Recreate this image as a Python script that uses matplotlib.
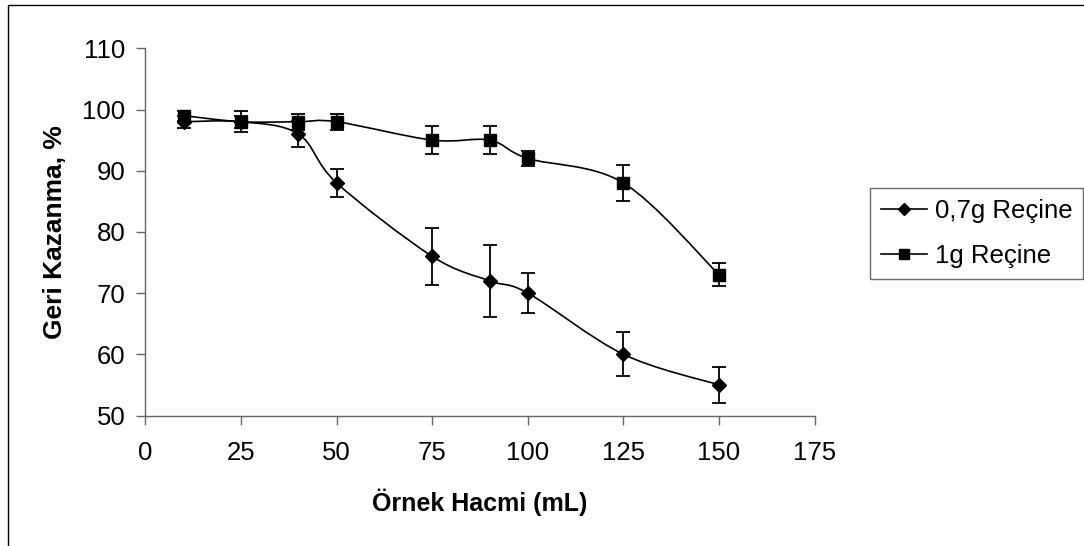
import numpy as np
import matplotlib
matplotlib.use("Agg")
import matplotlib.pyplot as plt
from matplotlib.path import Path
from matplotlib.patches import PathPatch, Rectangle
from matplotlib.lines import Line2D

plt.rcParams['font.family'] = ['Liberation Sans', 'DejaVu Sans']

# data
volume = [10, 25, 40, 50, 75, 90, 100, 125, 150]
recovery_07 = [98, 98, 96, 88, 76, 72, 70, 60, 55]
err_07 = [1.0, 1.0, 2.1, 2.3, 4.6, 5.9, 3.3, 3.6, 3.0]
recovery_1 = [99, 98, 98, 98, 95, 95, 92, 88, 73]
err_1 = [0.8, 1.7, 1.3, 1.3, 2.3, 2.3, 1.3, 3.0, 1.9]
labels = ["0,7g Reçine", "1g Reçine"]
xticks = [0, 25, 50, 75, 100, 125, 150, 175]
yticks = [50, 60, 70, 80, 90, 100, 110]


def smooth_path(x, y):
    # excel style smoothed line, cubic bezier through each point
    pts = np.column_stack([x, y]).astype(float)
    n = len(pts)
    verts = [pts[0]]
    codes = [Path.MOVETO]
    for i in range(n - 1):
        p0 = pts[max(i - 1, 0)]
        p1 = pts[i]
        p2 = pts[i + 1]
        p3 = pts[min(i + 2, n - 1)]
        verts += [p1 + (p2 - p0) / 6, p2 - (p3 - p1) / 6, p2]
        codes += [Path.CURVE4] * 3
    return Path(verts, codes)


fig = plt.figure(figsize=(10.84, 5.46), dpi=100)
ax = fig.add_axes([0.1342, 0.2390, 0.6173, 0.6725])

series = [
    (recovery_07, err_07, 'D', 7.2),
    (recovery_1, err_1, 's', 9.0),
]
handles = []
for (rec, err, mk, ms), lab in zip(series, labels):
    ax.add_patch(PathPatch(smooth_path(volume, rec), fill=False,
                           edgecolor='black', lw=1.2, zorder=2))
    ax.errorbar(volume, rec, yerr=err, fmt='none', ecolor='black',
                elinewidth=1.3, capsize=4.7, capthick=1.3, zorder=3)
    ax.plot(volume, rec, linestyle='none', marker=mk, ms=ms,
            color='black', zorder=4)
    handles.append(Line2D([], [], color='black', lw=1.2, marker=mk,
                          ms=ms * 0.85, label=lab))

ax.set_xlim(0, 175)
ax.set_ylim(50, 110)
ax.set_xticks(xticks)
ax.set_yticks(yticks)
for s in ['top', 'right']:
    ax.spines[s].set_visible(False)
for s in ['left', 'bottom']:
    ax.spines[s].set_color('#666666')
    ax.spines[s].set_linewidth(1.0)
ax.tick_params(direction='out', length=6.5, width=1.0, color='#666666',
               labelsize=18.5, labelcolor='black')
ax.tick_params(axis='x', pad=12)
ax.tick_params(axis='y', pad=8)

ax.set_xlabel("Örnek Hacmi (mL)", fontsize=18, fontweight='bold', va='center')
ax.xaxis.set_label_coords(0.5, -0.235)
ax.set_ylabel("Geri Kazanma, %", fontsize=19, fontweight='bold', va='center')
ax.yaxis.set_label_coords(-0.135, 0.5)

leg = ax.legend(handles=handles, loc='upper left',
                bbox_to_anchor=(870 / 1084, 1 - 188 / 546),
                bbox_transform=fig.transFigure, borderaxespad=0,
                fontsize=18.5, frameon=True, fancybox=False,
                handlelength=1.8, handletextpad=0.3, labelspacing=0.84,
                borderpad=0.42)
leg.get_frame().set_edgecolor('#444444')
leg.get_frame().set_linewidth(1.0)

# outer chart border
fig.add_artist(Rectangle((8 / 1084, -0.1), 1.2, 1.1 - 5 / 546,
                         transform=fig.transFigure, fill=False,
                         edgecolor='black', lw=1.0))

fig.savefig("out.png", dpi=100)
